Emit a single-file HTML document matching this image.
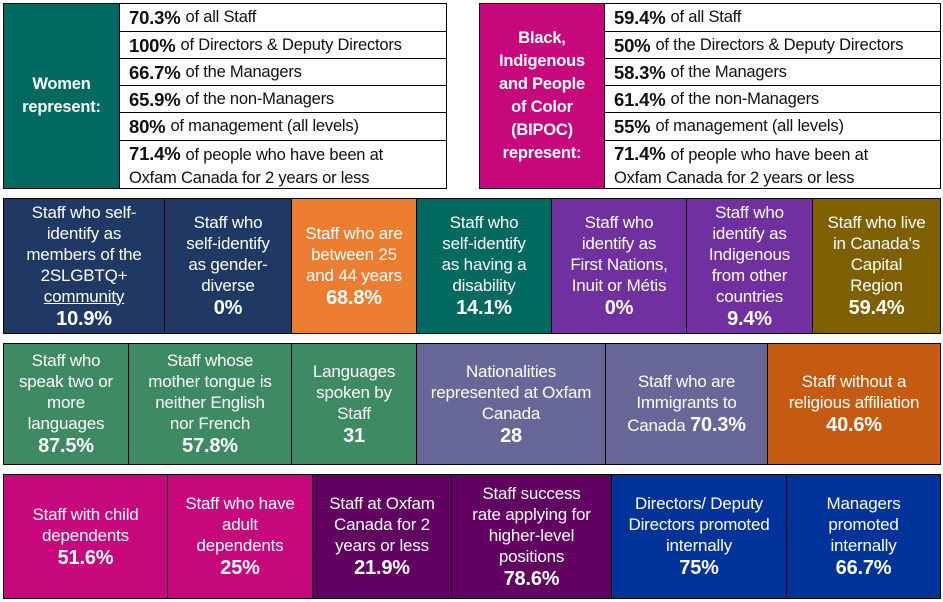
<!DOCTYPE html>
<html><head><meta charset="utf-8"><style>
body{margin:0;width:943px;height:602px;background:#fff;position:relative;overflow:hidden;font-family:"Liberation Sans Narrow","Liberation Sans",sans-serif;}
.c{position:absolute;box-sizing:border-box;border:1px solid #000;display:flex;align-items:center;justify-content:center;text-align:center;color:#fff;font-size:17px;line-height:21px;letter-spacing:-0.2px}
.c b{font-size:20px;line-height:24px}
.r{position:absolute;box-sizing:border-box;border:1px solid #000;color:#111;font-size:16.5px;padding-left:9px;display:flex;align-items:center;line-height:23px;background:#fff;letter-spacing:-0.2px;white-space:nowrap}
.r b{font-size:18.5px;margin-right:5px}
.lab{font-weight:bold;font-size:16.5px;line-height:23px}
</style></head><body>
<div class="c lab" style="left:3px;top:3px;width:117px;height:186px;background:#006960">Women<br>represent:</div>
<div class="r" style="left:119px;top:3px;width:328px;height:29px"><b>70.3%</b>of all Staff</div>
<div class="r" style="left:119px;top:31px;width:328px;height:28px"><b>100%</b>of Directors &amp; Deputy Directors</div>
<div class="r" style="left:119px;top:58px;width:328px;height:28px"><b>66.7%</b>of the Managers</div>
<div class="r" style="left:119px;top:85px;width:328px;height:28px"><b>65.9%</b>of the non-Managers</div>
<div class="r" style="left:119px;top:112px;width:328px;height:29px"><b>80%</b>of management (all levels)</div>
<div class="r" style="left:119px;top:140px;width:328px;height:49px;display:block;padding-top:1px"><b>71.4%</b>of people who have been at<br>Oxfam Canada for 2 years or less</div>

<div class="c lab" style="left:479px;top:3px;width:126px;height:186px;background:#c6087c">Black,<br>Indigenous<br>and People<br>of Color<br>(BIPOC)<br>represent:</div>
<div class="r" style="left:604px;top:3px;width:337px;height:29px"><b>59.4%</b>of all Staff</div>
<div class="r" style="left:604px;top:31px;width:337px;height:28px"><b>50%</b>of the Directors &amp; Deputy Directors</div>
<div class="r" style="left:604px;top:58px;width:337px;height:28px"><b>58.3%</b>of the Managers</div>
<div class="r" style="left:604px;top:85px;width:337px;height:28px"><b>61.4%</b>of the non-Managers</div>
<div class="r" style="left:604px;top:112px;width:337px;height:29px"><b>55%</b>of management (all levels)</div>
<div class="r" style="left:604px;top:140px;width:337px;height:49px;display:block;padding-top:1px"><b>71.4%</b>of people who have been at<br>Oxfam Canada for 2 years or less</div>

<div class="c" style="left:3px;top:198px;width:162px;height:136px;background:#1f3864"><div>Staff who self-<br>identify as<br>members of the<br>2SLGBTQ+<br><u>community </u><br><b>10.9%</b></div></div>
<div class="c" style="left:164px;top:198px;width:128px;height:136px;background:#1f3864"><div>Staff who<br>self-identify<br>as gender-<br>diverse<br><b>0%</b></div></div>
<div class="c" style="left:291px;top:198px;width:126px;height:136px;background:#ed7d31"><div>Staff who are<br>between 25<br>and 44 years<br><b>68.8%</b></div></div>
<div class="c" style="left:416px;top:198px;width:136px;height:136px;background:#006960"><div>Staff who<br>self-identify<br>as having a<br>disability<br><b>14.1%</b></div></div>
<div class="c" style="left:551px;top:198px;width:136px;height:136px;background:#7030a0"><div>Staff who<br>identify as<br>First Nations,<br>Inuit or Métis<br><b>0%</b></div></div>
<div class="c" style="left:686px;top:198px;width:127px;height:136px;background:#7030a0"><div>Staff who<br>identify as<br>Indigenous<br>from other<br>countries<br><b>9.4%</b></div></div>
<div class="c" style="left:812px;top:198px;width:129px;height:136px;background:#7f6000"><div>Staff who live<br>in Canada's<br>Capital<br>Region<br><b>59.4%</b></div></div>

<div class="c" style="left:3px;top:343px;width:126px;height:122px;background:#3d8a63"><div>Staff who<br>speak two or<br>more<br>languages<br><b>87.5%</b></div></div>
<div class="c" style="left:128px;top:343px;width:164px;height:122px;background:#3d8a63"><div>Staff whose<br>mother tongue is<br>neither English<br>nor French<br><b>57.8%</b></div></div>
<div class="c" style="left:291px;top:343px;width:126px;height:122px;background:#3d8a63"><div>Languages<br>spoken by<br>Staff<br><b>31</b></div></div>
<div class="c" style="left:416px;top:343px;width:190px;height:122px;background:#676798"><div>Nationalities<br>represented at Oxfam<br>Canada<br><b>28</b></div></div>
<div class="c" style="left:605px;top:343px;width:163px;height:122px;background:#676798"><div>Staff who are<br>Immigrants to<br>Canada <b>70.3%</b></div></div>
<div class="c" style="left:767px;top:343px;width:174px;height:122px;background:#c55a11"><div>Staff without a<br>religious affiliation<br><b>40.6%</b></div></div>

<div class="c" style="left:3px;top:474px;width:165px;height:125px;background:#c6087c"><div>Staff with child<br>dependents<br><b>51.6%</b></div></div>
<div class="c" style="left:167px;top:474px;width:146px;height:125px;background:#c6087c"><div>Staff who have<br>adult<br>dependents<br><b>25%</b></div></div>
<div class="c" style="left:312px;top:474px;width:140px;height:125px;background:#620062"><div>Staff at Oxfam<br>Canada for 2<br>years or less<br><b>21.9%</b></div></div>
<div class="c" style="left:451px;top:474px;width:161px;height:125px;background:#620062"><div>Staff success<br>rate applying for<br>higher-level<br>positions<br><b>78.6%</b></div></div>
<div class="c" style="left:611px;top:474px;width:176px;height:125px;background:#003399"><div>Directors/ Deputy<br>Directors promoted<br>internally<br><b>75%</b></div></div>
<div class="c" style="left:786px;top:474px;width:155px;height:125px;background:#003399"><div>Managers<br>promoted<br>internally<br><b>66.7%</b></div></div>
</body></html>
